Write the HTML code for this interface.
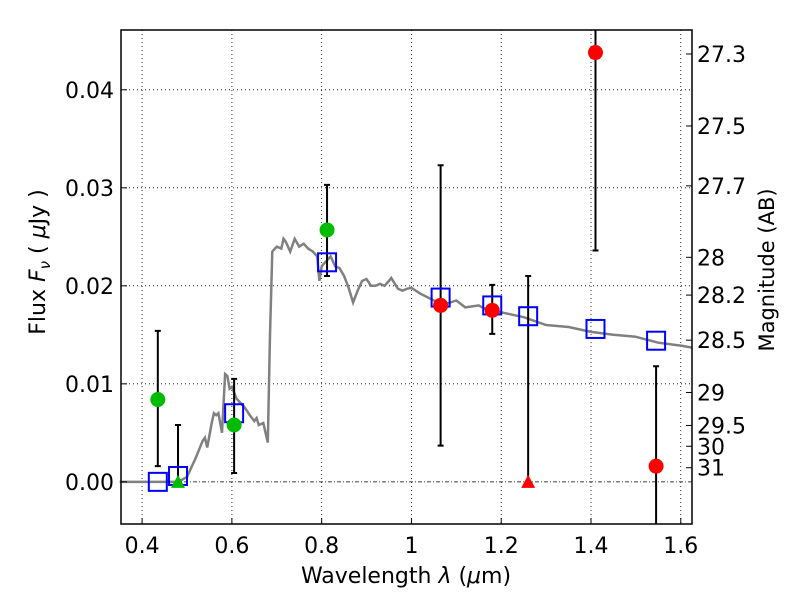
<!DOCTYPE html>
<html><head><meta charset="utf-8"><style>
body{margin:0;background:#fff}
svg text{font-family:"DejaVu Sans","Liberation Sans",sans-serif;fill:#000}
</style></head><body>
<svg id="chart" width="800" height="600">
<g id="grid"></g>
<g id="plot"></g>
<rect x="121" y="30" width="571" height="494" fill="none" stroke="#000" stroke-width="1.5"/>
<g id="axes"></g>
<text x="406" y="583" font-size="22" text-anchor="middle">Wavelength  <tspan font-style="italic">λ</tspan> (<tspan font-style="italic">μ</tspan>m)</text>
<text transform="translate(45,262) rotate(-90)" font-size="22" text-anchor="middle">Flux  <tspan font-style="italic">F<tspan font-size="15" dy="5">ν</tspan></tspan><tspan dy="-5">  ( </tspan><tspan font-style="italic">μ</tspan>Jy )</text>
<text transform="translate(774,270) rotate(-90)" font-size="21" text-anchor="middle">Magnitude (AB)</text>
</svg>
<script>
const xTicks=[0.4,0.6,0.8,1.0,1.2,1.4,1.6];
const xTickLabels=["0.4","0.6","0.8","1","1.2","1.4","1.6"];
const yTicks=[0,0.01,0.02,0.03,0.04];
const yTickLabels=["0.00","0.01","0.02","0.03","0.04"];
const magTicks=[27.3,27.5,27.7,28,28.2,28.5,29,29.5,30,31];
const modelWave=[0.35,0.48,0.50,0.52,0.535,0.54,0.545,0.555,0.56,0.565,0.57,0.578,0.585,0.59,0.595,0.60,0.61,0.62,0.63,0.64,0.65,0.655,0.66,0.67,0.68,0.685,0.69,0.70,0.71,0.715,0.72,0.73,0.74,0.75,0.76,0.77,0.78,0.79,0.795,0.80,0.81,0.82,0.83,0.84,0.85,0.86,0.87,0.88,0.89,0.90,0.91,0.92,0.93,0.94,0.95,0.955,0.97,0.98,0.99,1.0,1.02,1.05,1.08,1.1,1.12,1.15,1.17,1.2,1.25,1.3,1.35,1.4,1.45,1.5,1.55,1.6,1.625];
const modelFlux=[0,0,0.0005,0.0025,0.0042,0.0045,0.0035,0.006,0.007,0.0068,0.007,0.005,0.011,0.0108,0.0095,0.0097,0.0085,0.008,0.0075,0.0068,0.0062,0.0065,0.0058,0.006,0.004,0.015,0.0235,0.024,0.0238,0.0248,0.0245,0.0235,0.0248,0.024,0.0243,0.0238,0.0235,0.023,0.0205,0.022,0.0225,0.023,0.022,0.0218,0.021,0.0198,0.0183,0.0195,0.0205,0.0207,0.02,0.02,0.0202,0.02,0.0205,0.0208,0.0197,0.0195,0.0197,0.0198,0.0192,0.0185,0.0182,0.0185,0.0178,0.018,0.0175,0.0173,0.0168,0.016,0.0158,0.0153,0.015,0.0148,0.0142,0.0139,0.0137];
const greenWave=[0.435,0.605,0.812];
const greenFlux=[0.0084,0.0058,0.0257];
const greenLo=[0.0016,0.0009,0.021];
const greenHi=[0.0154,0.0105,0.0303];
const greenLimWave=[0.48];const greenLimFlux=[0];const greenLimHi=[0.0058];
const redWave=[1.065,1.18,1.41,1.545];
const redFlux=[0.018,0.0175,0.0438,0.0016];
const redLo=[0.0037,0.0151,0.0236,-0.0050];
const redHi=[0.0323,0.0201,0.0470,0.0118];
const redLimWave=[1.26];const redLimFlux=[0];const redLimHi=[0.021];
const modelBandWave=[0.435,0.48,0.605,0.812,1.065,1.18,1.26,1.41,1.545];
const modelBandFlux=[0.0,0.0006,0.007,0.0224,0.0188,0.018,0.0169,0.0156,0.0144];

const X0=121,X1=692,Y0=30,Y1=524,xmin=0.353,xmax=1.625,ymin=-0.0043,ymax=0.0461;
const sx=v=>X0+(v-xmin)/(xmax-xmin)*(X1-X0);
const sy=v=>Y1-(v-ymin)/(ymax-ymin)*(Y1-Y0);
const NS='http://www.w3.org/2000/svg';
function mk(parent,tag,attrs){const e=document.createElementNS(NS,tag);for(const k in attrs)e.setAttribute(k,attrs[k]);document.getElementById(parent).appendChild(e);return e;}
const clipY=v=>Math.max(Y0,Math.min(Y1,v));
xTicks.forEach((t,i)=>{
 let g=mk('grid','line',{x1:sx(t),x2:sx(t),y1:Y0,y2:Y1,stroke:'#000','stroke-width':0.8,'stroke-dasharray':'1,3'});
 
 let tk=mk('axes','line',{x1:sx(t),x2:sx(t),y1:Y1,y2:Y1-6,stroke:'#000'});
 
 let l=mk('axes','text',{x:sx(t),y:Y1+29,'font-size':22,'text-anchor':'middle'});l.textContent=xTickLabels[i];
 
});
yTicks.forEach((t,i)=>{
 let g=mk('grid','line',{x1:X0,x2:X1,y1:sy(t),y2:sy(t),stroke:'#000','stroke-width':0.8,'stroke-dasharray':t===0?'4,2,1,2':'1,3'});
 
 let tk=mk('axes','line',{x1:X0,x2:X0+6,y1:sy(t),y2:sy(t),stroke:'#000'});
 
 let l=mk('axes','text',{x:X0-7,y:sy(t)+8,'font-size':22,'text-anchor':'end'});l.textContent=yTickLabels[i];
 
});
magTicks.forEach(m=>{
 const f=Math.pow(10,(23.9-m)/2.5),y=sy(f);
 let tk=mk('axes','line',{x1:X1,x2:X1-6,y1:y,y2:y,stroke:'#000'});
 
 let l=mk('axes','text',{x:X1+5,y:y+8,'font-size':22});l.textContent=String(m);
 
});
let d=modelWave.map((w,i)=>(i?'L':'M')+sx(w).toFixed(1)+','+sy(modelFlux[i]).toFixed(1)).join(' ');
let p=mk('plot','path',{d:d,fill:'none',stroke:'#808080','stroke-width':2.5});

function err(w,lo,hi){const x=sx(w),a=clipY(sy(lo)),b=clipY(sy(hi));
 let e=mk('plot','path',{d:`M${x},${a}L${x},${b}`+(sy(lo)<Y1?`M${x-3},${a}L${x+3},${a}`:'')+(sy(hi)>Y0?`M${x-3},${b}L${x+3},${b}`:''),stroke:'#000','stroke-width':2,fill:'none'});
 }
greenWave.forEach((w,i)=>err(w,greenLo[i],greenHi[i]));
greenLimWave.forEach((w,i)=>err(w,greenLimFlux[i],greenLimHi[i]));
redWave.forEach((w,i)=>err(w,redLo[i],redHi[i]));
redLimWave.forEach((w,i)=>err(w,redLimFlux[i],redLimHi[i]));
modelBandWave.forEach((w,i)=>{let r=mk('plot','rect',{x:sx(w)-9,y:sy(modelBandFlux[i])-9,width:18,height:18,fill:'none',stroke:'#0000ff','stroke-width':2});
 });
greenWave.forEach((w,i)=>{let c=mk('plot','circle',{cx:sx(w),cy:sy(greenFlux[i]),r:7.5,fill:'#00bb00'});
 });
greenLimWave.forEach((w,i)=>{const x=sx(w),y=sy(greenLimFlux[i]);let t=mk('plot','path',{d:`M${x},${y-7}L${x+7},${y+6}L${x-7},${y+6}Z`,fill:'#00bb00'});
 });
redWave.forEach((w,i)=>{let c=mk('plot','circle',{cx:sx(w),cy:sy(redFlux[i]),r:7.5,fill:'#ff0000'});
 });
redLimWave.forEach((w,i)=>{const x=sx(w),y=sy(redLimFlux[i]);let t=mk('plot','path',{d:`M${x},${y-7}L${x+7},${y+6}L${x-7},${y+6}Z`,fill:'#ff0000'});
 });
</script>
</body></html>
